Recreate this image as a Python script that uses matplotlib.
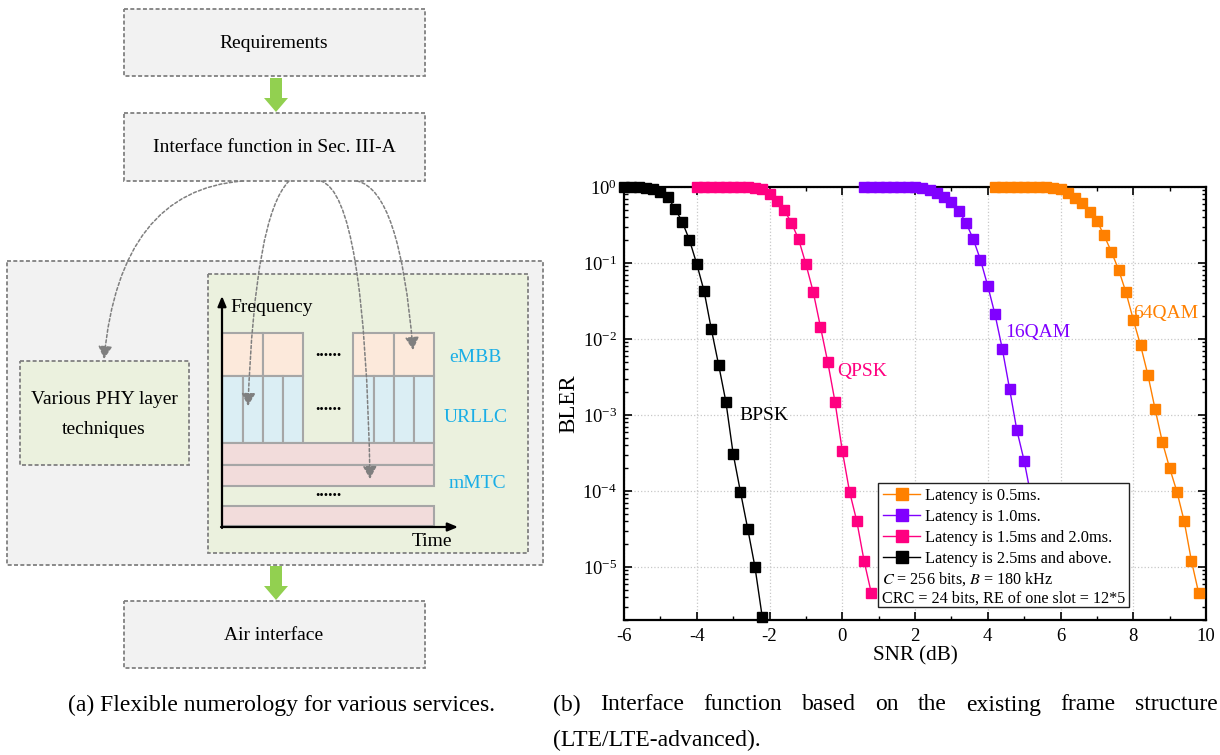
import numpy as np
import matplotlib
matplotlib.use("Agg")
import matplotlib.pyplot as plt
from matplotlib.patches import Rectangle, FancyArrow, FancyArrowPatch
from matplotlib.path import Path
from matplotlib.lines import Line2D
from matplotlib.ticker import LogLocator, MultipleLocator, NullFormatter

plt.rcParams['font.family'] = ['Liberation Serif', 'DejaVu Serif']
plt.rcParams['mathtext.fontset'] = 'stix'
plt.rcParams['axes.unicode_minus'] = False

# ---- BLER curves ----
snr_bpsk = [-6.0, -5.8, -5.6, -5.4, -5.2, -5.0, -4.8, -4.6, -4.4, -4.2,
            -4.0, -3.8, -3.6, -3.4, -3.2, -3.0, -2.8, -2.6, -2.4, -2.2]
bler_bpsk = [1.0, 0.998, 0.99, 0.97, 0.93, 0.86, 0.74, 0.52, 0.35, 0.20,
             0.097, 0.043, 0.0135, 0.0046, 0.0015, 3.1e-4, 9.8e-5, 3.2e-5, 1.0e-5, 2.2e-6]

snr_qpsk = [-4.0, -3.8, -3.6, -3.4, -3.2, -3.0, -2.8, -2.6, -2.4, -2.2,
            -2.0, -1.8, -1.6, -1.4, -1.2, -1.0, -0.8, -0.6, -0.4, -0.2,
            0.0, 0.2, 0.4, 0.6, 0.8]
bler_qpsk = [1.0, 1.0, 1.0, 0.999, 0.999, 0.998, 0.996, 0.99, 0.975, 0.93,
             0.80, 0.65, 0.50, 0.34, 0.205, 0.097, 0.042, 0.0145, 0.005, 0.0015,
             3.4e-4, 9.8e-5, 4.0e-5, 1.2e-5, 4.5e-6]

snr_16qam = [0.6, 0.8, 1.0, 1.2, 1.4, 1.6, 1.8, 2.0, 2.2, 2.4,
             2.6, 2.8, 3.0, 3.2, 3.4, 3.6, 3.8, 4.0, 4.2, 4.4,
             4.6, 4.8, 5.0, 5.2, 5.4, 5.6]
bler_16qam = [1.0, 1.0, 1.0, 1.0, 1.0, 0.999, 0.998, 0.99, 0.96, 0.91,
              0.83, 0.74, 0.63, 0.49, 0.34, 0.207, 0.11, 0.05, 0.021, 0.0074,
              0.0022, 6.3e-4, 2.5e-4, 8e-5, 2.3e-5, 6e-6]

snr_64qam = [4.2, 4.4, 4.6, 4.8, 5.0, 5.2, 5.4, 5.6, 5.8, 6.0,
             6.2, 6.4, 6.6, 6.8, 7.0, 7.2, 7.4, 7.6, 7.8, 8.0,
             8.2, 8.4, 8.6, 8.8, 9.0, 9.2, 9.4, 9.6, 9.8]
bler_64qam = [1.0, 1.0, 1.0, 1.0, 1.0, 0.999, 0.998, 0.995, 0.98, 0.93,
              0.83, 0.72, 0.61, 0.47, 0.36, 0.23, 0.14, 0.081, 0.041, 0.018,
              0.0083, 0.0034, 0.0012, 4.4e-4, 2.0e-4, 9.8e-5, 4.0e-5, 1.2e-5, 4.5e-6]

series = [
    (snr_64qam, bler_64qam, '#FF8000', 'Latency is 0.5ms.', '64QAM', (7.99, 10**-1.66)),
    (snr_16qam, bler_16qam, '#8000FF', 'Latency is 1.0ms.', '16QAM', (4.47, 10**-1.91)),
    (snr_qpsk, bler_qpsk, '#FF0080', 'Latency is 1.5ms and 2.0ms.', 'QPSK', (-0.14, 10**-2.43)),
    (snr_bpsk, bler_bpsk, '#000000', 'Latency is 2.5ms and above.', 'BPSK', (-2.84, 10**-3.01)),
]

fig = plt.figure(figsize=(12.2, 7.55), dpi=100)

# ---- left diagram, drawn in pixel units ----
dg = fig.add_axes([0, 0, 1, 1])
dg.set_xlim(0, 1220)
dg.set_ylim(755, 0)
dg.axis('off')

dash = (0, (2.2, 1.3))
grey = '#808080'

# (x0, y0, x1, y1, facecolor)
boxes = [
    (7, 261, 543, 565, '#f2f2f2'),
    (124, 9, 425, 76, '#f2f2f2'),
    (124, 113, 425, 181, '#f2f2f2'),
    (124, 601, 425, 668, '#f2f2f2'),
    (208, 274, 528, 553, '#ebf1de'),
    (20, 361, 189, 465, '#ebf1de'),
]
for x0, y0, x1, y1, fc in boxes:
    dg.add_patch(Rectangle((x0, y0), x1 - x0, y1 - y0, facecolor=fc,
                           edgecolor=grey, lw=1.3, linestyle=dash))

fs_d = 14
dg.text(274, 43, 'Requirements', ha='center', va='center', fontsize=fs_d)
dg.text(274, 148, 'Interface function in Sec. III-A', ha='center', va='center', fontsize=fs_d)
dg.text(274, 636, 'Air interface', ha='center', va='center', fontsize=fs_d)
dg.text(104, 400, 'Various PHY layer', ha='center', va='center', fontsize=fs_d)
dg.text(104, 429, 'techniques', ha='center', va='center', fontsize=fs_d)

for ys, ye in [(78, 112), (566, 600)]:
    dg.add_patch(FancyArrow(276, ys, 0, ye - ys, width=12, head_width=24,
                            head_length=14, length_includes_head=True,
                            color='#92d050', lw=0))

# frame-structure cells
embb = [(222, 263), (263, 303), (353, 394), (394, 434)]
urllc = [(222, 243), (243, 263), (263, 283), (283, 303),
         (353, 374), (374, 394), (394, 414), (414, 434)]
mmtc = [(443, 465), (465, 486), (506, 526)]
for x0, x1 in embb:
    dg.add_patch(Rectangle((x0, 333), x1 - x0, 43, facecolor='#fce9db',
                           edgecolor='#a6a6a6', lw=1.5))
for x0, x1 in urllc:
    dg.add_patch(Rectangle((x0, 376), x1 - x0, 67, facecolor='#dbeef4',
                           edgecolor='#a6a6a6', lw=1.5))
for y0, y1 in mmtc:
    dg.add_patch(Rectangle((222, y0), 212, y1 - y0, facecolor='#f2dcdb',
                           edgecolor='#a6a6a6', lw=1.5))

dg.annotate('', xy=(222, 296), xytext=(222, 528),
            arrowprops=dict(arrowstyle='-|>,head_length=0.6,head_width=0.25',
                            color='k', lw=1.6, shrinkA=0, shrinkB=0))
dg.annotate('', xy=(458, 527), xytext=(221, 527),
            arrowprops=dict(arrowstyle='-|>,head_length=0.6,head_width=0.25',
                            color='k', lw=1.6, shrinkA=0, shrinkB=0))
dg.text(230, 307, 'Frequency', ha='left', va='center', fontsize=fs_d)
dg.text(452, 541, 'Time', ha='right', va='center', fontsize=fs_d)
for yy in [352, 405, 492]:
    dg.text(328, yy, '......', ha='center', va='center', fontsize=13, fontweight='bold')
svc_col = '#1aaee6'
dg.text(475, 357, 'eMBB', ha='center', va='center', fontsize=fs_d, color=svc_col)
dg.text(476, 417, 'URLLC', ha='center', va='center', fontsize=fs_d, color=svc_col)
dg.text(477, 483, 'mMTC', ha='center', va='center', fontsize=fs_d, color=svc_col)

# curved dashed pointers: start, control, end
curves = [
    ((243, 181), (120, 190), (104, 359)),
    ((289, 181), (255, 215), (248, 406)),
    ((321, 181), (365, 195), (370, 479)),
    ((357, 181), (400, 190), (413, 350)),
]
for p0, c, p1 in curves:
    pth = Path([p0, c, p1], [Path.MOVETO, Path.CURVE3, Path.CURVE3])
    dg.add_patch(FancyArrowPatch(path=pth,
                                 arrowstyle='-|>,head_length=0.55,head_width=0.3',
                                 mutation_scale=14, color='#7f7f7f', lw=1.1,
                                 linestyle=(0, (2, 1.5))))

# ---- right chart ----
ax = fig.add_axes([624 / 1220, 1 - 620 / 755, 582 / 1220, 433 / 755])
for x, y, col, lab, name, pos in series:
    ax.plot(x, y, color=col, lw=1.0, marker='s', ms=7.2, mec=col, mfc=col,
            clip_on=False, zorder=3)
    ax.text(pos[0], pos[1], name, color=col, fontsize=14, ha='left', va='center')

ax.set_yscale('log')
ax.set_xlim(-6, 10)
ax.set_ylim(2e-6, 1)
ax.xaxis.set_major_locator(MultipleLocator(2))
ax.xaxis.set_minor_locator(MultipleLocator(1))
ax.yaxis.set_major_locator(LogLocator(base=10, numticks=10))
ax.yaxis.set_minor_locator(LogLocator(base=10, subs=np.arange(2, 10), numticks=20))
ax.yaxis.set_minor_formatter(NullFormatter())
ax.tick_params(which='both', direction='in', top=True, right=True, labelsize=13.5)
ax.tick_params(which='major', length=6, width=1.2)
ax.tick_params(which='minor', length=3, width=1.0)
ax.tick_params(axis='x', pad=6)
ax.tick_params(axis='y', pad=5)
ax.grid(True, which='major', color='#c8c8c8', linestyle=':', lw=0.9)
for sp in ax.spines.values():
    sp.set_linewidth(1.6)
ax.set_xlabel('SNR (dB)', fontsize=15.2, labelpad=1)
ax.set_ylabel('BLER', fontsize=16.5, labelpad=2)

# legend with two extra parameter lines
ax.add_patch(Rectangle((0.436, 0.030), 0.432, 0.286, transform=ax.transAxes,
                       facecolor='white', edgecolor='#222222', lw=1.0, zorder=5))
handles = [Line2D([], [], color=col, lw=1.0, marker='s', ms=8, mfc=col, mec=col)
           for _, _, col, _, _, _ in series]
labels = [lab for _, _, _, lab, _, _ in series]
leg = ax.legend(handles, labels, loc='upper left', bbox_to_anchor=(0.436, 0.316),
                frameon=False, fontsize=11.8, handlelength=2.3, handletextpad=0.3,
                labelspacing=0.3, borderpad=0.3, borderaxespad=0)
leg.set_zorder(6)
ax.text(0.443, 0.0947, '$C$ = 256 bits, $B$ = 180 kHz', transform=ax.transAxes,
        fontsize=11.6, ha='left', va='center', zorder=7)
ax.text(0.443, 0.0485, 'CRC = 24 bits, RE of one slot = 12*5', transform=ax.transAxes,
        fontsize=11.6, ha='left', va='center', zorder=7)

# ---- captions ----
fs_c = 17
fig.text(282 / 1220, 1 - 705 / 755, '(a) Flexible numerology for various services.',
         ha='center', va='center', fontsize=fs_c)
words = '(b) Interface function based on the existing frame structure'.split()
renderer = fig.canvas.get_renderer()
wtexts = [fig.text(0, 1 - 705 / 755, w, ha='left', va='center', fontsize=fs_c) for w in words]
widths = [t.get_window_extent(renderer).width for t in wtexts]
x_left, x_right = 553, 1218
gap = (x_right - x_left - sum(widths)) / (len(words) - 1)
xc = x_left
for t, w in zip(wtexts, widths):
    t.set_x(xc / 1220)
    xc += w + gap
fig.text(553 / 1220, 1 - 740 / 755, '(LTE/LTE-advanced).', ha='left', va='center', fontsize=fs_c)

fig.savefig('out.png', dpi=100)
